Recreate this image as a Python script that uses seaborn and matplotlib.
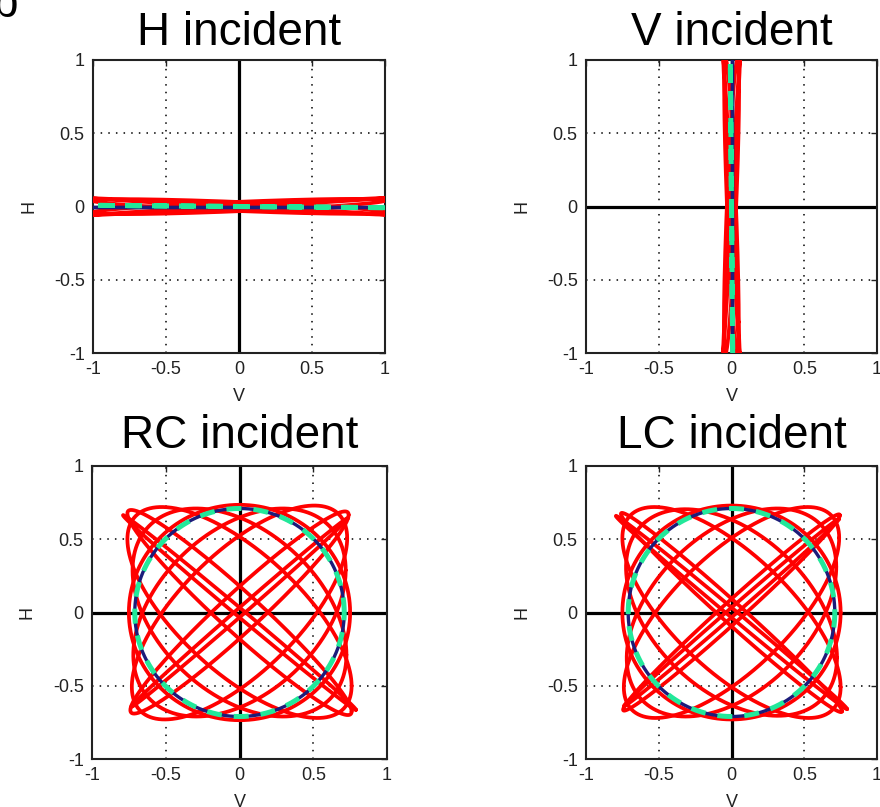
import numpy as np
import pandas as pd
import matplotlib
matplotlib.use("Agg")
import matplotlib.pyplot as plt
import seaborn as sns

# ---- panel titles and ticks -------------------------------------------------
titles = ["H incident", "V incident", "RC incident", "LC incident"]
tick_values = [-1, -0.5, 0, 0.5, 1]
tick_labels = ["-1", "-0.5", "0", "0.5", "1"]

# ---- transmitted polarisation ellipses (red) ---------------------------------
# each ellipse: V amplitude, H amplitude, phase of H relative to V (degrees)
h_v_amp = [1.0, 1.0, 1.0, 1.0]
h_h_amp = [0.058, 0.056, 0.052, 0.050]
h_phase = [6, 174, 38, 142]

v_v_amp = [0.058, 0.056, 0.052, 0.050]
v_h_amp = [1.0, 1.0, 1.0, 1.0]
v_phase = [6, 174, 38, 142]

rc_v_amp = [0.735, 0.79, 0.74, 0.76, 0.73, 0.76, 0.72, 0.725, 0.75]
rc_h_amp = [0.645, 0.665, 0.69, 0.70, 0.73, 0.72, 0.71, 0.71, 0.735]
rc_phase = [3, 177, 15, 165, 46, 134, 66, 114, 90]

lc_v_amp = [0.74, 0.795, 0.745, 0.76, 0.74, 0.75, 0.72, 0.725, 0.75]
lc_h_amp = [0.64, 0.66, 0.67, 0.68, 0.72, 0.72, 0.71, 0.705, 0.73]
lc_phase = [3, 177, 8, 172, 45, 135, 64, 116, 90]

# ---- reference states: ideal (green dashed) and expected (dark blue) ---------
ideal_v_amp = [1.0, 0.008, 0.71, 0.71]
ideal_h_amp = [0.008, 1.0, 0.71, 0.71]
ideal_phase = [180, 180, 90, -90]

expected_v_amp = [1.0, 0.0, 0.71, 0.71]
expected_h_amp = [0.0, 1.0, 0.71, 0.71]
expected_phase = [0, 0, 90, -90]

red_sets = [
    (h_v_amp, h_h_amp, h_phase),
    (v_v_amp, v_h_amp, v_phase),
    (rc_v_amp, rc_h_amp, rc_phase),
    (lc_v_amp, lc_h_amp, lc_phase),
]


def ellipse_frame(v_amp, h_amp, phase, panel, kind):
    t = np.linspace(0, 2 * np.pi, 721)
    frames = []
    for i, (a, b, p) in enumerate(zip(v_amp, h_amp, phase)):
        frames.append(pd.DataFrame({
            "V": a * np.cos(t),
            "H": b * np.cos(t - np.deg2rad(p)),
            "curve": i,
            "panel": panel,
            "kind": kind,
        }))
    return pd.concat(frames, ignore_index=True)


parts = []
for k, (va, ha, ph) in enumerate(red_sets):
    parts.append(ellipse_frame(va, ha, ph, k, "measured"))
    parts.append(ellipse_frame([expected_v_amp[k]], [expected_h_amp[k]],
                               [expected_phase[k]], k, "expected"))
    parts.append(ellipse_frame([ideal_v_amp[k]], [ideal_h_amp[k]],
                               [ideal_phase[k]], k, "ideal"))
data = pd.concat(parts, ignore_index=True)

# ---- styling -----------------------------------------------------------------
sns.set_style("white")
plt.rcParams["font.family"] = ["Liberation Sans", "DejaVu Sans"]

fig = plt.figure(figsize=(8.8, 8.07), dpi=100)
W, H = 880.0, 807.0

# axes boxes in pixels: left, top, right, bottom
boxes = [
    (93, 60, 385, 353),
    (586, 60, 877, 353),
    (92, 466, 387, 759),
    (586, 466, 877, 759),
]
title_pads = [11, 11, 13, 13]

for k, (l, t, r, b) in enumerate(boxes):
    ax = fig.add_axes([l / W, 1 - b / H, (r - l) / W, (b - t) / H])
    sub = data[data["panel"] == k]

    ax.axhline(0, color="black", lw=2.3, zorder=1)
    ax.axvline(0, color="black", lw=2.3, zorder=1)

    sns.lineplot(data=sub[sub["kind"] == "measured"], x="V", y="H",
                 units="curve", estimator=None, sort=False, color="#ff0000",
                 lw=2.7, ax=ax, legend=False, zorder=3)
    sns.lineplot(data=sub[sub["kind"] == "expected"], x="V", y="H",
                 units="curve", estimator=None, sort=False, color="#1c1c7a",
                 lw=2.4, ax=ax, legend=False, zorder=4)
    sns.lineplot(data=sub[sub["kind"] == "ideal"], x="V", y="H",
                 units="curve", estimator=None, sort=False, color="#22e89a",
                 lw=3.6, linestyle=(0, (3.0, 2.4)), ax=ax, legend=False,
                 zorder=5)

    ax.set_xlim(-1, 1)
    ax.set_ylim(-1, 1)
    ax.set_xticks(tick_values)
    ax.set_yticks(tick_values)
    ax.set_xticklabels(tick_labels)
    ax.set_yticklabels(tick_labels)
    ax.tick_params(direction="in", length=4, width=1, colors="#222222",
                   labelsize=13, pad=6, top=True, right=True)
    ax.grid(True, color="black", linestyle=(0, (1, 4)), lw=1.1, zorder=0)
    for s in ax.spines.values():
        s.set_color("#222222")
        s.set_linewidth(1.5)
        s.set_visible(True)

    ax.set_xlabel("V", fontsize=13, color="#222222")
    ax.set_ylabel("H", fontsize=13, color="#222222")
    ax.xaxis.set_label_coords(0.5, -0.12)
    ax.yaxis.set_label_coords(-0.19, 0.5)
    ax.set_title(titles[k], fontsize=33, pad=title_pads[k], color="black")

# panel letter, partly outside the canvas
fig.text(-8 / W, 1 - 17 / H, "b", fontsize=33, ha="left", va="baseline",
         color="black")

fig.savefig("out.png", dpi=100)
